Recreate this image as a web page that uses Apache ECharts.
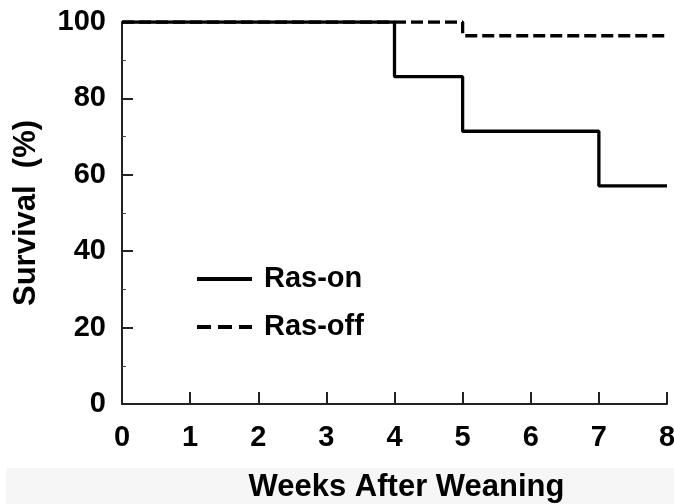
<!DOCTYPE html>
<html>
<head>
<meta charset="utf-8">
<script src="https://cdn.jsdelivr.net/npm/echarts@6/dist/echarts.min.js"></script>
<style>
html, body { margin: 0; padding: 0; background: #fff; }
#main { width: 674px; height: 504px; }
</style>
</head>
<body>
<div id="main"></div>
<script>
// Kaplan-Meier style survival, step points (week, % surviving)
var rasOnWeeks = [0, 4, 5, 7, 8]
var rasOnSurv = [100, 85.7, 71.4, 57.1, 57.1]
var rasOffWeeks = [0, 5, 8]
var rasOffSurv = [100, 96.4, 96.4]
var xTicks = [0, 1, 2, 3, 4, 5, 6, 7, 8]
var yTicks = [0, 20, 40, 60, 80, 100]

function pairs(xs, ys) {
    var out = []
    for (var i = 0; i < xs.length; i++) out.push([xs[i], ys[i]])
    return out
}

var font = '"Liberation Sans", Arial, sans-serif'
var myChart = echarts.init(document.getElementById('main'));

var option = {
    animation: false,
    grid: { left: 122, right: 7, top: 22, bottom: 100, outerBoundsMode: 'none' },
    graphic: [{
        type: 'rect',
        z: -10,
        shape: { x: 6, y: 468, width: 668, height: 36 },
        style: { fill: '#f6f6f6' }
    }],
    legend: {
        orient: 'vertical',
        left: 190,
        top: 259,
        itemWidth: 55,
        itemHeight: 14,
        itemGap: 18,
        data: ['Ras-on', { name: 'Ras-off', lineStyle: { type: [14, 7] } }],
        itemStyle: { opacity: 0 },
        lineStyle: { width: 4 },
        textStyle: { fontFamily: font, fontWeight: 'bold', fontSize: 29, lineHeight: 30, color: '#000', padding: [0, 0, 0, 7] }
    },
    xAxis: {
        type: 'value',
        min: 0, max: 8, interval: 1,
        name: 'Weeks After Weaning',
        nameLocation: 'middle',
        nameGap: 68,
        nameTextStyle: { fontFamily: font, fontWeight: 'bold', fontSize: 31, color: '#000', padding: [0, 0, 0, 24] },
        axisLine: { lineStyle: { color: '#222', width: 2 } },
        axisTick: { inside: true, length: 12, lineStyle: { color: '#222', width: 2 } },
        axisLabel: { fontFamily: font, fontWeight: 'bold', fontSize: 29, color: '#000', margin: 19,
            formatter: function (v) { return xTicks.indexOf(v) >= 0 ? v : '' } },
        splitLine: { show: false }
    },
    yAxis: {
        type: 'value',
        min: 0, max: 100, interval: 20,
        name: 'Survival  (%)',
        nameLocation: 'middle',
        nameGap: 80,
        nameTextStyle: { fontFamily: font, fontWeight: 'bold', fontSize: 31, color: '#000' },
        axisLine: { show: true, lineStyle: { color: '#222', width: 2 } },
        axisTick: { show: true, inside: true, length: 11, lineStyle: { color: '#222', width: 2 } },
        minorTick: { show: true, splitNumber: 2, length: 4, lineStyle: { color: '#444', width: 1 } },
        axisLabel: { fontFamily: font, fontWeight: 'bold', fontSize: 29, color: '#000', margin: 16,
            formatter: function (v) { return yTicks.indexOf(v) >= 0 ? v : '' } },
        splitLine: { show: false }
    },
    series: [{
        name: 'Ras-on',
        type: 'line',
        step: 'end',
        symbol: 'none',
        data: pairs(rasOnWeeks, rasOnSurv),
        lineStyle: { color: '#000', width: 3.3 },
        itemStyle: { color: '#000' },
        z: 3
    }, {
        name: 'Ras-off',
        type: 'line',
        step: 'end',
        symbol: 'none',
        data: pairs(rasOffWeeks, rasOffSurv),
        lineStyle: { color: '#000', width: 3.3, type: [12, 5] },
        itemStyle: { color: '#000' },
        z: 2
    }]
};

myChart.setOption(option);
</script>
</body>
</html>
